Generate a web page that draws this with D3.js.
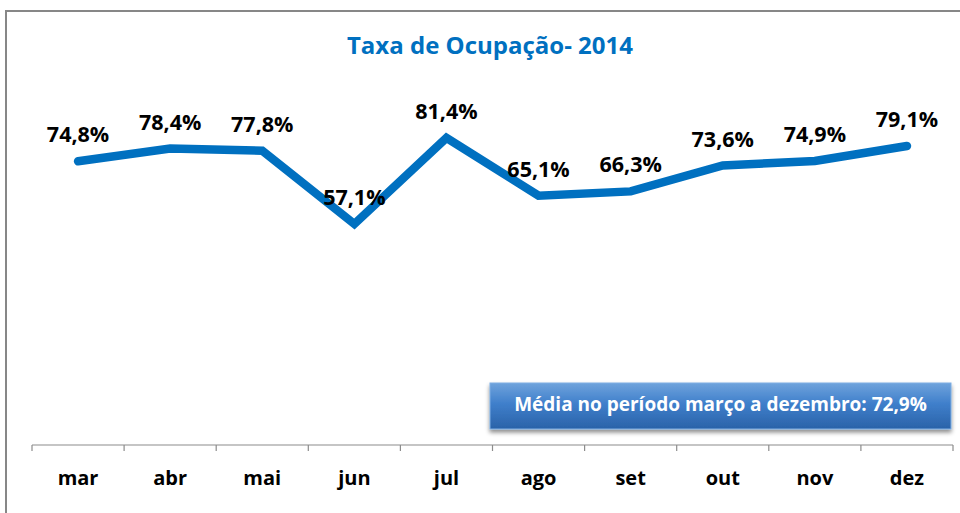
<!DOCTYPE html>
<html><head><meta charset="utf-8">
<script src="https://cdn.jsdelivr.net/npm/d3@7"></script>
<style>body{margin:0;background:#fff;}svg{display:block;}</style>
</head><body>
<script>
const months = ["mar","abr","mai","jun","jul","ago","set","out","nov","dez"];
const values = [74.8, 78.4, 77.8, 57.1, 81.4, 65.1, 66.3, 73.6, 74.9, 79.1];
const valueLabels = ["74,8%","78,4%","77,8%","57,1%","81,4%","65,1%","66,3%","73,6%","74,9%","79,1%"];
const title = "Taxa de Ocupação- 2014";
const averageText = "Média no período março a dezembro: 72,9%";

const W = 960, H = 513;
const FONT = "'Open Sans', 'Noto Sans', sans-serif";
const svg = d3.select("body").append("svg").attr("width", W).attr("height", H);

const defs = svg.append("defs");
const grad = defs.append("linearGradient").attr("id","boxGrad").attr("x1",0).attr("y1",0).attr("x2",0).attr("y2",1);
grad.append("stop").attr("offset","0%").attr("stop-color","#6FA3DC");
grad.append("stop").attr("offset","45%").attr("stop-color","#3F7FCB");
grad.append("stop").attr("offset","100%").attr("stop-color","#2A62A8");
const sh = defs.append("filter").attr("id","shadow").attr("x","-10%").attr("y","-30%").attr("width","120%").attr("height","180%");
sh.append("feDropShadow").attr("dx",0).attr("dy",3).attr("stdDeviation",2).attr("flood-color","#000").attr("flood-opacity",0.45);

// chart frame
svg.append("rect").attr("x",6).attr("y",11).attr("width",W).attr("height",H)
  .attr("fill","#fff").attr("stroke","#878787").attr("stroke-width",2);

// title
svg.append("text").attr("x",490).attr("y",54).attr("text-anchor","middle")
  .attr("font-family",FONT).attr("font-weight","bold").attr("font-size",24)
  .attr("fill","#0070C0").text(title);

const x = d3.scaleBand().domain(months).range([32, 953]).padding(0);
const y = d3.scaleLinear().domain([-5, 100]).range([444, 72]);

// x axis
const xAxis = d3.axisBottom(x).tickSize(0).tickPadding(0).tickFormat(d => d);
const gx = svg.append("g").attr("transform","translate(0,445)").call(xAxis);
gx.select(".domain").attr("stroke","#8c8c8c").attr("stroke-width",1.2).attr("d","M32,0H953");
gx.selectAll(".tick text").attr("font-family",FONT).attr("font-weight","bold")
  .attr("font-size",20).attr("fill","#000").attr("dy",0).attr("y",40);
// band boundary ticks
const bounds = months.map(m => x(m)).concat([x.range()[1]]);
gx.selectAll(".bt").data(bounds).enter().append("line")
  .attr("x1",d=>d).attr("x2",d=>d).attr("y1",0).attr("y2",6)
  .attr("stroke","#8c8c8c").attr("stroke-width",1.2);

// line
const line = d3.line().x((d,i) => x(months[i]) + x.bandwidth()/2).y(d => y(d));
svg.append("path").datum(values).attr("d", line)
  .attr("fill","none").attr("stroke","#0070C0").attr("stroke-width",8.5)
  .attr("stroke-linejoin","miter").attr("stroke-linecap","round");

// data labels
svg.selectAll(".lbl").data(values).enter().append("text")
  .attr("x",(d,i) => x(months[i]) + x.bandwidth()/2)
  .attr("y",d => y(d) - 19)
  .attr("text-anchor","middle").attr("font-family",FONT).attr("font-weight","bold")
  .attr("font-size",21.5).attr("fill","#000")
  .text((d,i) => valueLabels[i]);

// average box
const bx = 490, by = 383, bw = 461, bh = 46;
svg.append("rect").attr("x",bx).attr("y",by).attr("width",bw).attr("height",bh)
  .attr("fill","url(#boxGrad)").attr("stroke","#7FAEE3").attr("stroke-width",1)
  .attr("filter","url(#shadow)");
svg.append("text").attr("x",bx + bw/2).attr("y",by + 28)
  .attr("text-anchor","middle").attr("font-family",FONT).attr("font-weight","bold")
  .attr("font-size",19).attr("fill","#fff").text(averageText);
</script>
</body></html>
